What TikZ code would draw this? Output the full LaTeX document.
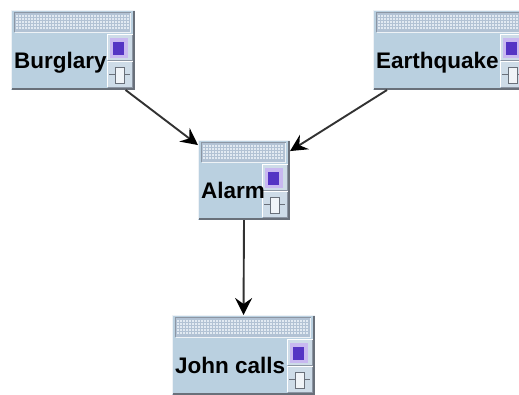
\documentclass[tikz,border=0pt]{standalone}
\usepackage{fontspec}
\setmainfont{Liberation Sans}
\usetikzlibrary{arrows.meta}
\definecolor{bodyc}{RGB}{186,208,224}
\definecolor{btnc}{RGB}{206,220,232}
\definecolor{barc}{RGB}{178,194,212}
\definecolor{dotc}{RGB}{226,234,242}
\definecolor{darkedge}{RGB}{105,112,122}
\definecolor{midedge}{RGB}{140,150,164}
\definecolor{lightedge}{RGB}{238,242,246}
\definecolor{purpin}{RGB}{84,52,196}
\definecolor{purpout}{RGB}{200,184,240}
\definecolor{linec}{RGB}{50,50,50}
\tikzset{
  boxbody/.style={rectangle, fill=bodyc, inner sep=0pt, outer sep=0pt},
  lbl/.style={font=\fontsize{22.5}{25}\selectfont\bfseries, inner sep=0pt, anchor=base west},
  link/.style={draw=linec, line width=1.9pt,
    -{Stealth[length=17pt,width=17pt,inset=6pt,color=black]}},
}
\newcommand\bnbox[5]{%
  \begin{scope}[shift={(#2,#3)}]
    \node[boxbody, minimum width=#4pt, minimum height=80pt] (#1) at ({#4/2},40) {};
    \pgfmathsetmacro\wa{#4}
    \pgfmathtruncatemacro\xend{#4-7}
    % outer edges
    \draw[lightedge, line width=1pt] (0.5,79) -- (0.5,0.5) -- ({\wa-0.5},0.5);
    \draw[darkedge, line width=2pt] (1,79) -- ({\wa-1},79) -- ({\wa-1},1);
    % title bar
    \fill[barc] (3,2) rectangle ({\wa-4},22);
    \foreach \yy in {5,8,11,14,17}
      \foreach \xx in {5,8,...,\xend}
        \fill[dotc] (\xx,\yy) rectangle ++(1.8,1.8);
    \draw[midedge, line width=1pt] (3.5,22) -- (3.5,2.5) -- ({\wa-4},2.5);
    \draw[lightedge, line width=1pt] (3.5,22.5) -- ({\wa-4.5},22.5) -- ({\wa-4.5},2.5);
    % button 1
    \fill[btnc] ({\wa-28},24) rectangle ({\wa-2},50);
    \draw[white, line width=1pt] ({\wa-27.5},50) -- ({\wa-27.5},24.5) -- ({\wa-2},24.5);
    \draw[midedge, line width=1pt] ({\wa-27.5},50) -- ({\wa-2.5},50) -- ({\wa-2.5},24.5);
    \fill[purpout] ({\wa-25},28) rectangle ({\wa-7},48);
    \fill[purpin] ({\wa-22},32) rectangle ({\wa-11},45);
    % button 2
    \fill[btnc] ({\wa-28},51) rectangle ({\wa-2},77);
    \draw[white, line width=1pt] ({\wa-27.5},77) -- ({\wa-27.5},51.5) -- ({\wa-2},51.5);
    \draw[midedge, line width=1pt] ({\wa-27.5},77) -- ({\wa-2.5},77) -- ({\wa-2.5},51.5);
    \draw[darkedge, line width=1pt] ({\wa-26},64) -- ({\wa-20},64)
      ({\wa-11},64) -- ({\wa-5},64);
    \filldraw[fill=white!70!btnc, draw=darkedge, line width=1pt] ({\wa-20},57) rectangle ({\wa-11},73);
    % label
    \node[lbl] at (3,58.5) {#5};
  \end{scope}}
\begin{document}
\begin{tikzpicture}[x=1pt,y=-1pt]
  \useasboundingbox (0,0) rectangle (519,394);
  \fill[white] (0,0) rectangle (519,394);
  \clip (0,0) rectangle (519,394);
  \bnbox{burglary}{11}{10}{124}{Burglary}
  \bnbox{earthquake}{373}{10}{155}{Earthquake}
  \bnbox{alarm}{198}{140}{92}{Alarm}
  \bnbox{john}{172}{315}{143}{John calls}
  \draw[link] (burglary) -- (alarm);
  \draw[link] (earthquake) -- (alarm);
  \draw[link] (alarm.south) -- (john.north);
\end{tikzpicture}
\end{document}
